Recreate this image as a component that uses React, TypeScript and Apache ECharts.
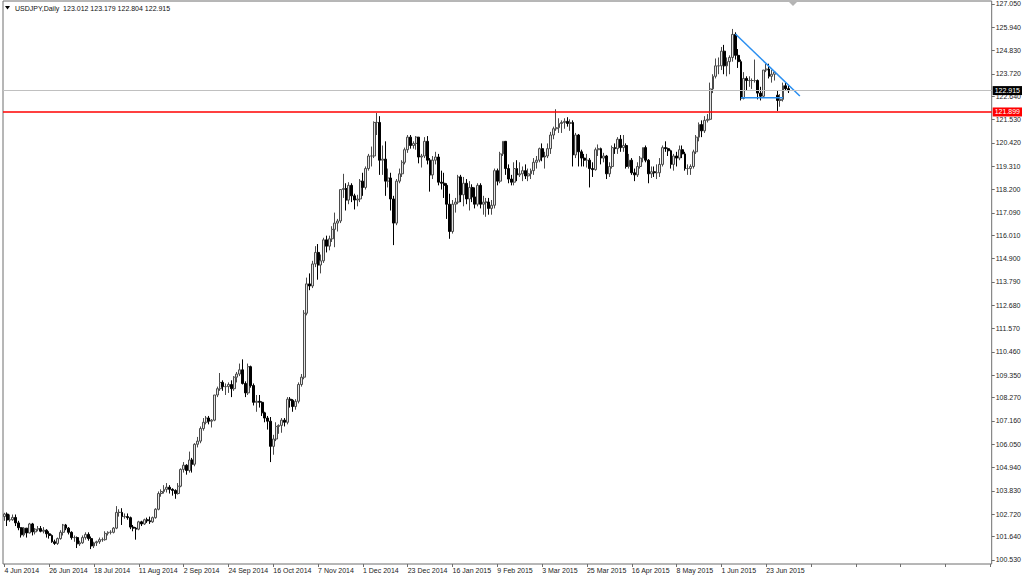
import React, { useEffect, useRef } from "react";
import * as echarts from "echarts";

// Daily candles, each as [open, high, low, close]
const jun2014 = [
  [102.60, 102.78, 102.40, 102.72], [102.72, 102.80, 102.15, 102.44], [102.44, 102.70, 102.35, 102.45],
  [102.45, 102.70, 102.40, 102.56], [102.56, 102.70, 102.15, 102.30], [102.30, 102.40, 101.95, 102.07],
  [102.07, 102.10, 101.60, 101.73], [101.73, 102.10, 101.65, 102.05], [102.05, 102.05, 101.60, 101.82],
  [101.82, 102.30, 101.80, 102.25], [102.25, 102.30, 101.70, 101.87], [101.87, 102.05, 101.75, 102.00],
  [102.00, 102.15, 101.90, 102.03], [102.03, 102.15, 101.85, 101.90], [101.90, 102.10, 101.80, 101.95],
  [101.95, 102.00, 101.60, 101.78], [101.78, 101.90, 101.55, 101.70], [101.70, 101.75, 101.35, 101.40],
  [101.40, 101.50, 101.25, 101.32],
];
const jul2014 = [
  [101.32, 101.60, 101.25, 101.55], [101.55, 101.95, 101.50, 101.85], [101.85, 102.25, 101.70, 102.20],
  [102.20, 102.25, 101.95, 102.05], [102.05, 102.10, 101.75, 101.85], [101.85, 101.90, 101.50, 101.60],
  [101.60, 101.70, 101.40, 101.60], [101.60, 101.65, 101.10, 101.30], [101.30, 101.45, 101.20, 101.35],
  [101.35, 101.70, 101.30, 101.60], [101.60, 101.85, 101.50, 101.75], [101.75, 101.85, 101.45, 101.55],
  [101.55, 101.65, 101.05, 101.20], [101.20, 101.40, 101.10, 101.35], [101.35, 101.45, 101.20, 101.40],
  [101.40, 101.60, 101.30, 101.50], [101.50, 101.60, 101.40, 101.50], [101.50, 101.90, 101.45, 101.80],
  [101.80, 101.90, 101.70, 101.85], [101.85, 101.95, 101.75, 101.85], [101.85, 102.10, 101.80, 102.05],
  [102.05, 103.10, 102.00, 102.80], [102.80, 102.95, 102.60, 102.80],
];
const aug2014 = [
  [102.80, 103.00, 102.20, 102.60], [102.60, 102.75, 102.50, 102.60], [102.60, 102.75, 102.45, 102.55],
  [102.55, 102.60, 102.00, 102.10], [102.10, 102.20, 101.90, 102.05], [102.05, 102.10, 101.50, 102.00],
  [102.00, 102.40, 101.95, 102.35], [102.35, 102.40, 102.15, 102.25], [102.25, 102.50, 102.20, 102.45],
  [102.45, 102.55, 102.30, 102.40], [102.40, 102.60, 102.25, 102.35], [102.35, 102.60, 102.30, 102.55],
  [102.55, 103.00, 102.50, 102.95], [102.95, 103.80, 102.90, 103.70], [103.70, 103.90, 103.55, 103.80],
  [103.80, 104.10, 103.70, 103.90], [103.90, 104.20, 103.75, 104.00], [104.00, 104.10, 103.70, 103.90],
  [103.90, 103.95, 103.60, 103.85], [103.85, 103.90, 103.45, 103.70], [103.70, 104.20, 103.65, 104.05],
];
const sep2014 = [
  [104.05, 104.90, 104.00, 104.85], [104.85, 105.20, 104.70, 105.05], [105.05, 105.10, 104.60, 104.80],
  [104.80, 105.70, 104.70, 105.30], [105.30, 105.40, 104.70, 105.10], [105.10, 106.10, 105.00, 106.05],
  [106.05, 106.40, 105.90, 106.20], [106.20, 106.90, 106.10, 106.80], [106.80, 107.30, 106.70, 107.10],
  [107.10, 107.40, 107.00, 107.30], [107.30, 107.40, 107.00, 107.15], [107.15, 107.25, 106.85, 107.20],
  [107.20, 108.40, 107.15, 108.40], [108.40, 108.80, 108.30, 108.70], [108.70, 109.45, 108.60, 109.00],
  [109.00, 109.10, 108.60, 108.80], [108.80, 108.95, 108.40, 108.80], [108.80, 109.00, 108.50, 108.90],
  [108.90, 109.10, 108.30, 108.70], [108.70, 109.30, 108.60, 109.25], [109.25, 109.50, 109.00, 109.40],
  [109.40, 109.90, 109.30, 109.60],
];
const oct2014 = [
  [109.60, 110.10, 108.90, 108.95], [108.95, 109.05, 108.30, 108.50], [108.50, 109.90, 108.40, 109.75],
  [109.75, 109.80, 108.75, 108.85], [108.85, 108.95, 107.90, 108.05], [108.05, 108.40, 107.60, 108.10],
  [108.10, 108.40, 107.80, 108.05], [108.05, 108.10, 107.40, 107.55], [107.55, 107.60, 107.10, 107.30],
  [107.30, 107.40, 106.75, 107.15], [107.15, 107.35, 105.20, 105.95], [105.95, 106.50, 105.55, 106.30],
  [106.30, 107.10, 106.20, 106.90], [106.90, 107.00, 106.55, 106.95], [106.95, 107.30, 106.60, 107.20],
  [107.20, 107.30, 106.90, 107.10], [107.10, 108.30, 107.00, 108.20], [108.20, 108.30, 107.80, 108.15],
  [108.15, 108.20, 107.60, 107.85], [107.85, 108.20, 107.70, 108.10], [108.10, 109.00, 108.00, 108.90],
  [108.90, 109.40, 108.80, 109.25], [109.25, 112.45, 109.15, 112.30],
];
const nov2014 = [
  [112.30, 114.00, 112.20, 113.70], [113.70, 114.20, 113.40, 113.60], [113.60, 114.80, 113.50, 114.65],
  [114.65, 115.50, 114.50, 115.20], [115.20, 115.60, 113.90, 114.60], [114.60, 115.10, 114.20, 114.80],
  [114.80, 115.90, 114.70, 115.80], [115.80, 116.00, 115.20, 115.50], [115.50, 116.00, 115.30, 115.85],
  [115.85, 116.45, 115.70, 116.30], [116.30, 117.10, 115.45, 116.60], [116.60, 116.80, 116.20, 116.70],
  [116.70, 118.20, 116.60, 118.20], [118.20, 118.95, 117.80, 118.25], [118.25, 118.50, 117.20, 117.70],
  [117.70, 118.55, 117.50, 118.40], [118.40, 118.50, 117.60, 117.90], [117.90, 118.00, 117.25, 117.70],
  [117.70, 117.95, 117.40, 117.75], [117.75, 118.70, 117.60, 118.60],
];
const dec2014 = [
  [118.60, 119.00, 117.90, 118.30], [118.30, 119.30, 118.20, 119.20], [119.20, 119.90, 119.10, 119.80],
  [119.80, 120.25, 119.30, 119.80], [119.80, 121.45, 119.70, 121.40], [121.40, 121.85, 120.80, 121.40],
  [121.40, 121.70, 118.90, 119.60], [119.60, 120.30, 118.90, 119.65], [119.65, 120.50, 117.90, 118.60],
  [118.60, 119.20, 118.30, 118.75], [118.75, 119.00, 117.20, 117.75], [117.75, 117.90, 115.55, 116.60],
  [116.60, 118.70, 116.50, 118.60], [118.60, 119.20, 118.50, 118.95], [118.95, 119.60, 118.80, 119.50],
  [119.50, 120.20, 119.40, 120.10], [120.10, 120.80, 119.95, 120.70], [120.70, 120.80, 120.15, 120.30],
  [120.30, 120.50, 120.15, 120.40], [120.40, 120.75, 120.10, 120.70], [120.70, 120.70, 119.45, 119.75],
  [119.75, 119.90, 119.25, 119.80],
];
const jan2015 = [
  [119.80, 120.70, 119.70, 120.50], [120.50, 120.75, 119.40, 119.60], [119.60, 119.70, 118.10, 118.90],
  [118.90, 119.80, 118.70, 119.60], [119.60, 120.00, 119.40, 119.75], [119.75, 119.90, 118.40, 118.55],
  [118.55, 119.10, 118.20, 118.50], [118.50, 119.00, 117.80, 118.40], [118.40, 118.50, 116.80, 117.50],
  [117.50, 118.00, 115.85, 116.20], [116.20, 117.70, 116.10, 117.50], [117.50, 117.80, 117.10, 117.60],
  [117.60, 118.90, 117.50, 118.80], [118.80, 118.90, 117.60, 117.95], [117.95, 118.80, 117.40, 118.50],
  [118.50, 118.70, 117.50, 117.75], [117.75, 118.60, 117.20, 118.30], [118.30, 118.45, 117.60, 117.85],
  [117.85, 118.30, 117.30, 117.50], [117.50, 118.50, 117.40, 118.40], [118.40, 118.50, 117.30, 117.50],
];
const feb2015 = [
  [117.50, 117.90, 117.00, 117.60], [117.60, 117.80, 116.90, 117.60], [117.60, 117.80, 117.00, 117.30],
  [117.30, 117.70, 117.00, 117.45], [117.45, 119.20, 117.30, 119.10], [119.10, 119.20, 118.40, 118.60],
  [118.60, 120.00, 118.50, 119.90], [119.90, 120.50, 119.80, 120.50], [120.50, 120.50, 118.90, 119.20],
  [119.20, 119.40, 118.50, 118.70], [118.70, 118.90, 118.40, 118.55], [118.55, 119.50, 118.40, 119.20],
  [119.20, 119.60, 118.60, 118.90], [118.90, 119.50, 118.80, 118.95], [118.95, 119.30, 118.60, 119.10],
  [119.10, 119.40, 118.70, 118.85], [118.85, 119.20, 118.60, 118.95], [118.95, 119.20, 118.70, 119.10],
  [119.10, 119.70, 118.90, 119.50], [119.50, 119.80, 119.20, 119.60],
];
const mar2015 = [
  [119.60, 120.20, 119.50, 120.15], [120.15, 120.40, 119.55, 119.75], [119.75, 120.00, 119.20, 119.80],
  [119.80, 120.40, 119.70, 120.15], [120.15, 120.95, 119.90, 120.80], [120.80, 121.20, 120.60, 121.10],
  [121.10, 122.03, 121.00, 121.15], [121.15, 121.60, 120.90, 121.35], [121.35, 121.50, 120.90, 121.40],
  [121.40, 121.60, 121.10, 121.45], [121.45, 121.65, 121.20, 121.35], [121.35, 121.55, 121.00, 121.40],
  [121.40, 121.50, 119.30, 119.85], [119.85, 120.90, 119.70, 120.80], [120.80, 120.85, 119.30, 120.00],
  [120.00, 120.10, 119.30, 119.70], [119.70, 119.90, 119.30, 119.60], [119.60, 119.90, 119.25, 119.60],
  [119.60, 119.70, 118.30, 119.20], [119.20, 119.50, 118.80, 119.15], [119.15, 120.20, 119.10, 120.10],
  [120.10, 120.35, 119.80, 120.15],
];
const apr2015 = [
  [120.15, 120.20, 119.40, 119.70], [119.70, 119.95, 119.50, 119.80], [119.80, 119.85, 118.70, 118.95],
  [118.95, 119.50, 118.80, 119.30], [119.30, 120.30, 119.20, 120.20], [120.20, 120.40, 119.90, 120.15],
  [120.15, 120.70, 119.90, 120.60], [120.60, 120.80, 120.00, 120.20], [120.20, 120.80, 120.00, 120.30],
  [120.30, 120.40, 119.20, 119.30], [119.30, 119.90, 119.20, 119.60], [119.60, 119.70, 118.90, 119.00],
  [119.00, 119.20, 118.60, 118.90], [118.90, 119.50, 118.80, 119.30], [119.30, 119.80, 119.20, 119.70],
  [119.70, 120.20, 119.50, 120.20], [120.20, 120.30, 119.50, 119.60], [119.60, 119.65, 118.50, 118.95],
  [118.95, 119.30, 118.75, 119.05], [119.05, 119.30, 118.80, 119.00], [119.00, 119.40, 118.70, 119.00],
  [119.00, 119.70, 118.80, 119.40],
];
const may2015 = [
  [119.40, 120.30, 119.30, 120.20], [120.20, 120.50, 120.00, 120.15], [120.15, 120.20, 119.80, 120.05],
  [120.05, 120.10, 119.20, 119.40], [119.40, 119.90, 119.10, 119.80], [119.80, 120.00, 119.30, 119.70],
  [119.70, 120.30, 119.60, 120.10], [120.10, 120.30, 119.70, 119.90], [119.90, 120.00, 119.10, 119.20],
  [119.20, 119.40, 118.90, 119.20], [119.20, 119.40, 118.90, 119.30], [119.30, 120.10, 119.20, 120.00],
  [120.00, 120.80, 119.90, 120.70], [120.70, 121.40, 120.50, 121.30], [121.30, 121.50, 120.70, 121.00],
  [121.00, 121.70, 120.90, 121.50], [121.50, 121.80, 121.40, 121.55], [121.55, 123.30, 121.50, 123.00],
  [123.00, 123.70, 122.80, 123.60], [123.60, 124.45, 123.50, 124.10], [124.10, 124.50, 123.70, 124.10],
];
const jun2015 = [
  [124.10, 125.00, 123.90, 124.80], [124.80, 125.10, 123.70, 124.10], [124.10, 124.50, 123.60, 124.30],
  [124.30, 124.60, 123.70, 124.50], [124.50, 125.86, 124.30, 125.60], [125.60, 125.70, 124.40, 124.60],
  [124.60, 124.90, 124.00, 124.30], [124.30, 124.40, 122.45, 122.55], [122.55, 123.80, 122.50, 123.50],
  [123.50, 123.60, 122.90, 123.40], [123.40, 123.60, 123.10, 123.40], [123.40, 123.50, 123.00, 123.40],
  [123.40, 124.40, 123.30, 123.40], [123.40, 123.45, 122.50, 122.80], [122.80, 123.10, 122.45, 122.65],
  [122.65, 123.90, 122.60, 123.90], [123.90, 124.20, 123.80, 123.95], [123.95, 124.20, 123.50, 123.60],
  [123.60, 123.90, 123.30, 123.70], [123.70, 123.85, 123.40, 123.80], [122.70, 122.90, 121.95, 122.45],
  [122.45, 122.75, 122.15, 122.50],
];
const jul2015 = [
  [122.50, 123.30, 122.40, 123.15], [123.15, 123.30, 122.90, 123.01], [123.012, 123.179, 122.804, 122.915],
];

const dateLabels = [
  "4 Jun 2014", "26 Jun 2014", "18 Jul 2014", "11 Aug 2014", "2 Sep 2014", "24 Sep 2014",
  "16 Oct 2014", "7 Nov 2014", "1 Dec 2014", "23 Dec 2014", "16 Jan 2015", "9 Feb 2015",
  "3 Mar 2015", "25 Mar 2015", "16 Apr 2015", "8 May 2015", "1 Jun 2015", "23 Jun 2015",
];
const priceTicks = [
  100.53, 101.64, 102.72, 103.83, 104.94, 106.05, 107.16, 108.27, 109.35, 110.46, 111.57, 112.68,
  113.79, 114.9, 116.01, 117.09, 118.2, 119.31, 120.42, 121.53, 122.64, 123.72, 124.83, 125.94, 127.05,
];
const bidPrice = 122.915;
const resistanceLevel = 121.899;
// [bar index, price]
const trendDown = [[261, 125.62], [284, 122.66]];
const flatSupport = [[263, 122.58], [278, 122.58]];
const symbolName = "USDJPY,Daily";

const FONT = "'Liberation Sans', Arial, sans-serif";

export default function App() {
  const ref = useRef<HTMLDivElement>(null);
  useEffect(() => {
    if (!ref.current) return;
    const chart = echarts.init(ref.current, undefined, { renderer: "svg" });
    const candles = [
      ...jun2014, ...jul2014, ...aug2014, ...sep2014, ...oct2014, ...nov2014, ...dec2014,
      ...jan2015, ...feb2015, ...mar2015, ...apr2015, ...may2015, ...jun2015, ...jul2015,
    ];
    const slotCount = 353;
    const slots = Array.from({ length: slotCount }, (_, i) => String(i));
    const last = candles[candles.length - 1];
    const title = `${symbolName}  ${last.map((v) => v.toFixed(3)).join(" ")}`;

    const option: any = {
      animation: false,
      backgroundColor: "#ffffff",
      grid: { left: 3, right: 31, top: 1, bottom: 12, show: true, borderColor: "#6e6e6e", borderWidth: 1, backgroundColor: "#ffffff" },
      xAxis: {
        type: "category",
        data: slots,
        boundaryGap: true,
        axisLine: { show: false },
        axisTick: { show: true, interval: 15, alignWithLabel: true, length: 3, lineStyle: { color: "#6e6e6e" } },
        axisLabel: {
          interval: 15,
          align: "left",
          margin: 3,
          fontSize: 7,
          fontFamily: FONT,
          color: "#222",
          formatter: (_v: string, idx: number) => dateLabels[idx / 16] ?? "",
        },
        splitLine: { show: false },
      },
      yAxis: {
        type: "value",
        position: "right",
        min: 100.339,
        max: 127.193,
        axisLine: { show: false },
        axisTick: { show: true, customValues: priceTicks, length: 3, lineStyle: { color: "#6e6e6e" } },
        axisLabel: {
          customValues: priceTicks,
          formatter: (v: number) => v.toFixed(3),
          margin: 4,
          fontSize: 7,
          fontFamily: FONT,
          color: "#222",
        },
        splitLine: { show: false },
      },
      graphic: [
        { type: "polygon", shape: { points: [[5, 6], [10, 6], [7.5, 9.5]] }, style: { fill: "#000" } },
        { type: "text", x: 15, y: 8, style: { text: title, fontSize: 7, fontFamily: FONT, fill: "#111", verticalAlign: "middle" } },
        { type: "polygon", shape: { points: [[789, 2], [797, 2], [793, 6]] }, style: { fill: "#b4b4b4" } },
      ],
      series: [
        {
          type: "candlestick",
          data: candles.map(([o, h, l, c]) => [o, c, l, h]),
          barWidth: 2.4,
          itemStyle: {
            color: "#e4e4e4",
            color0: "#000000",
            borderColor: "#4a4a4a",
            borderColor0: "#000000",
            borderWidth: 1,
          },
          markLine: {
            symbol: ["none", "none"],
            silent: true,
            z: 10,
            label: { show: true, position: "end", distance: 1, fontSize: 7, fontFamily: FONT, padding: [1, 2, 1, 2], color: "#fff" },
            data: [
              {
                yAxis: bidPrice,
                lineStyle: { color: "#c0c0c0", width: 1, type: "solid" },
                label: { formatter: bidPrice.toFixed(3), backgroundColor: "#000000" },
              },
              {
                yAxis: resistanceLevel,
                lineStyle: { color: "#ff0000", width: 1.5, type: "solid" },
                label: { formatter: resistanceLevel.toFixed(3), backgroundColor: "#ff0000" },
              },
            ],
          },
        },
        {
          type: "line",
          data: trendDown,
          symbol: "none",
          lineStyle: { color: "#2b8ff0", width: 1.5 },
          z: 5,
        },
        {
          type: "line",
          data: flatSupport,
          symbol: "none",
          lineStyle: { color: "#2b8ff0", width: 1.5 },
          z: 5,
        },
      ],
    };
    chart.setOption(option);
    return () => chart.dispose();
  }, []);
  return (
    <div
      ref={ref}
      style={{ position: "fixed", left: 0, top: 0, width: 1024, height: 576, background: "#ffffff" }}
    />
  );
}
